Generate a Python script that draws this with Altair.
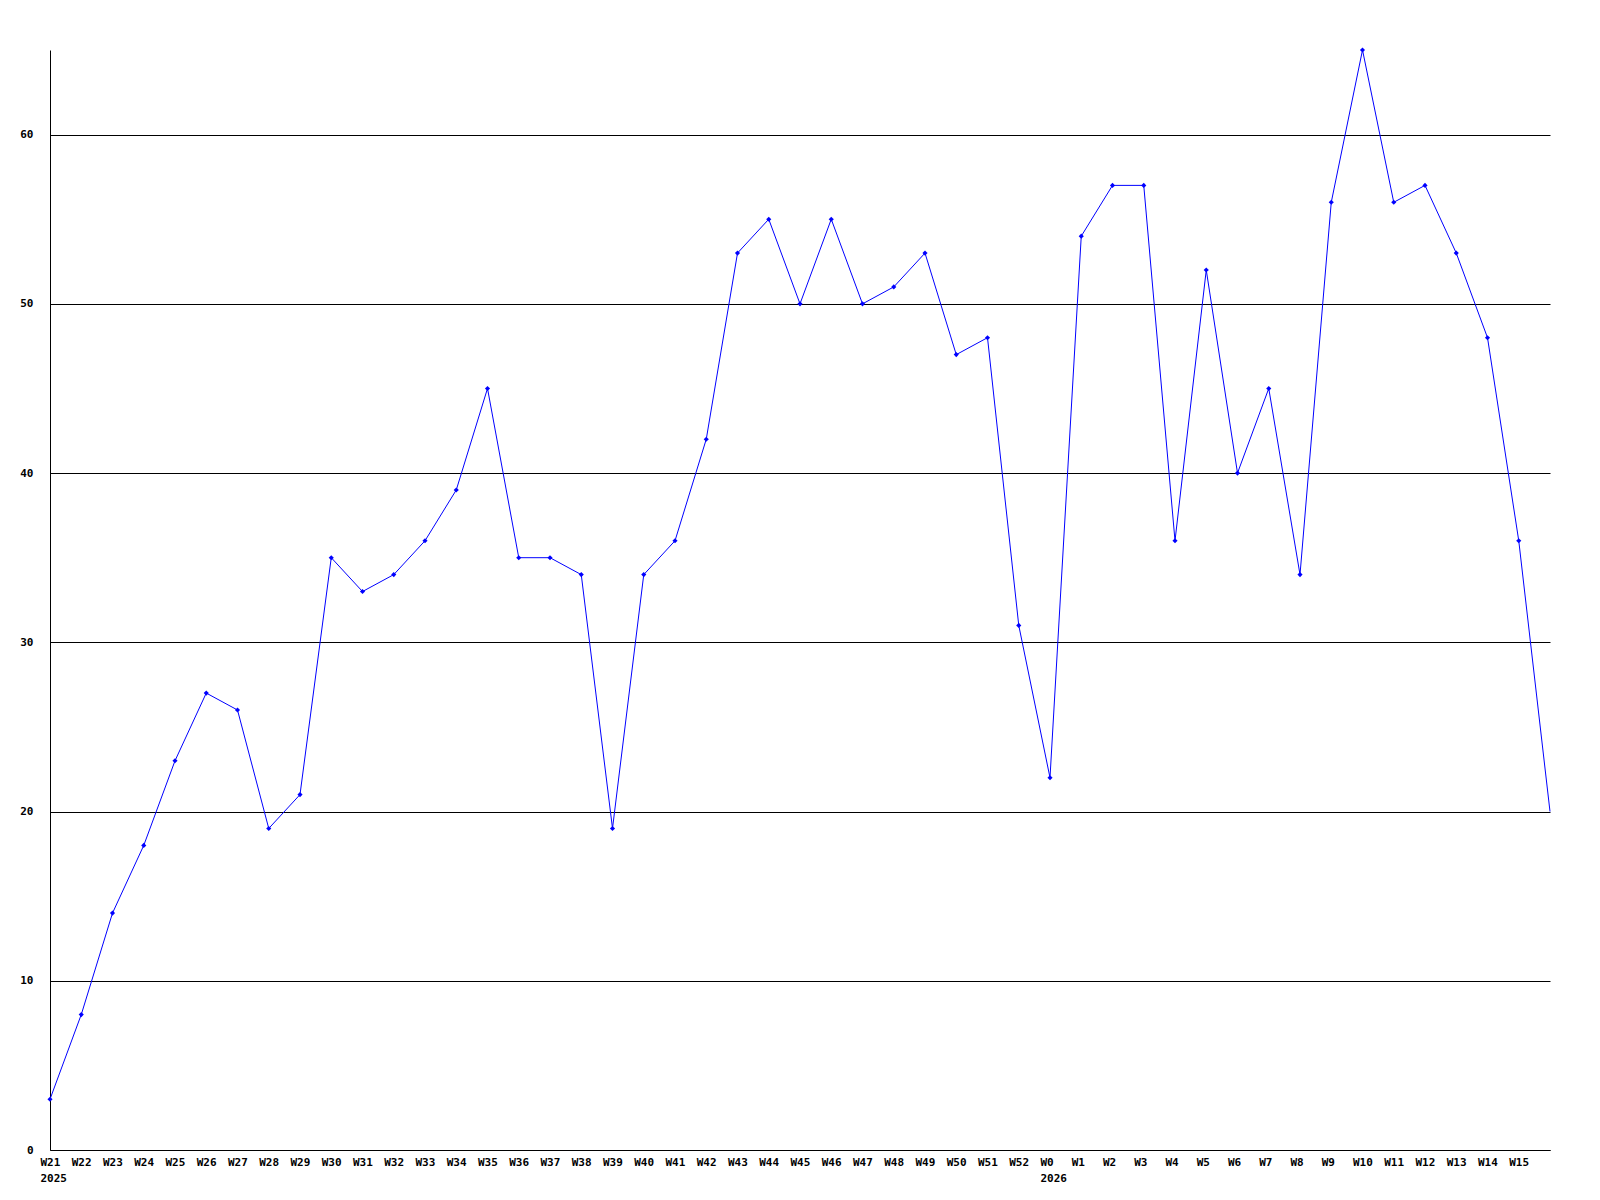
import altair as alt
import pandas as pd
import json

weeks = ["W21", "W22", "W23", "W24", "W25", "W26", "W27", "W28", "W29", "W30",
         "W31", "W32", "W33", "W34", "W35", "W36", "W37", "W38", "W39", "W40",
         "W41", "W42", "W43", "W44", "W45", "W46", "W47", "W48", "W49", "W50",
         "W51", "W52", "W0", "W1", "W2", "W3", "W4", "W5", "W6", "W7",
         "W8", "W9", "W10", "W11", "W12", "W13", "W14", "W15", ""]
years = {0: "2025", 32: "2026"}
values = [3, 8, 14, 18, 23, 27, 26, 19, 21, 35,
          33, 34, 36, 39, 45, 35, 35, 34, 19, 34,
          36, 42, 53, 55, 50, 55, 50, 51, 53, 47,
          48, 31, 22, 54, 57, 57, 36, 52, 40, 45,
          34, 56, 65, 56, 57, 53, 48, 36, 20]
y_ticks = [0, 10, 20, 30, 40, 50, 60]

df = pd.DataFrame({"i": list(range(len(values))), "week": weeks, "v": values})

label_items = []
for i, w in enumerate(weeks):
    if i in years:
        label_items.append([w, years[i]])
    else:
        label_items.append(w)
label_expr = json.dumps(label_items).replace('"', "'") + "[datum.value]"

FONT = "DejaVu Sans Mono"

x = alt.X("i:Q",
          scale=alt.Scale(domain=[0, len(values) - 1], nice=False, zero=False),
          axis=alt.Axis(values=list(range(len(weeks) - 1)), labelExpr=label_expr,
                        title=None, grid=False, ticks=False, domainColor="black",
                        labelAlign="left", labelOffset=-10, labelBaseline="top",
                        labelPadding=6, labelLineHeight=16, labelOverlap=False,
                        labelBound=False, labelFlush=False,
                        labelFont=FONT, labelFontWeight="bold", labelFontSize=11,
                        labelColor="black"))
y = alt.Y("v:Q",
          scale=alt.Scale(domain=[0, 65], nice=False),
          axis=alt.Axis(values=y_ticks, title=None, grid=True, gridColor="black",
                        gridOpacity=1, gridWidth=1, ticks=False, domainColor="black",
                        labelPadding=17, labelFont=FONT, labelFontWeight="bold",
                        labelFontSize=11, labelColor="black", labelBaseline="middle",
                        labelBound=False, labelFlush=False))

base = alt.Chart(df)
line = base.mark_line(color="#0000FF", strokeWidth=1).encode(x=x, y=y)
pts = base.transform_filter("datum.i < 48").mark_point(
    shape="diamond", filled=True, color="#0000FF", size=26, opacity=1
).encode(x=x, y=y)

chart = (line + pts).properties(
    width=1500, height=1100,
    autosize=alt.AutoSizeParams(type="none"),
    padding={"left": 42, "top": 42, "right": 42, "bottom": 42},
    background="white",
).configure_view(stroke=None, strokeWidth=0)

chart.save("out.html", embed_options={"renderer": "svg", "actions": False})
